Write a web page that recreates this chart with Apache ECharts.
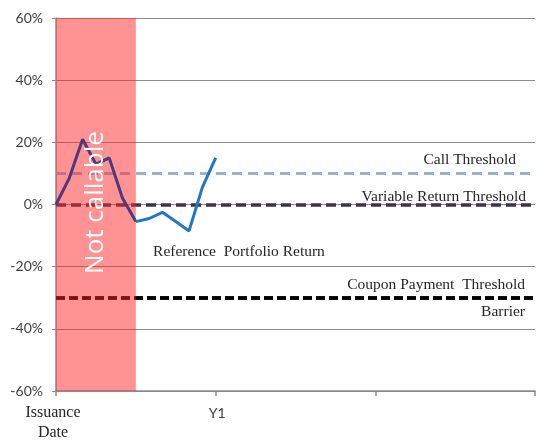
<!DOCTYPE html>
<html><head><meta charset="utf-8">
<script src="https://cdn.jsdelivr.net/npm/echarts@6/dist/echarts.min.js"></script>
<style>html,body{margin:0;padding:0;background:#fff}#c{width:538px;height:445px}</style>
</head><body><div id="c"></div>
<script>
// Time in years since issuance (monthly steps)
const months = [0, 1/12, 2/12, 3/12, 4/12, 5/12, 6/12, 7/12, 8/12, 9/12, 10/12, 11/12, 1];
const portfolioReturn = [0, 8.5, 21, 13, 15, 2, -5.5, -4.5, -2.5, -5.5, -8.5, 5.5, 15];
const yTicks = [-60, -40, -20, 0, 20, 40, 60];
const xTickLabels = {0: 'Issuance\nDate', 1: 'Y1', 2: '', 3: ''};
const callThreshold = 10;
const variableReturnThreshold = 0;
const couponThreshold = -30;
const barrier = -30;
const notCallableEnd = 0.5;
const labelPos = [1.146, -15.2];

const serif = 'Liberation Serif';
const pts = months.map((m, i) => [m, portfolioReturn[i]]);
const splitIdx = months.findIndex(m => m >= notCallableEnd);
const chart = echarts.init(document.getElementById('c'));
chart.setOption({
  animation: false,
  grid: {left: 56, right: 1, top: 18, bottom: 54},
  xAxis: {
    type: 'value', min: 0, max: 3, interval: 1,
    axisLine: {show: true, onZero: false, lineStyle: {color: '#8a8a8a', width: 1.5}},
    axisTick: {show: true, length: 5, lineStyle: {color: '#8a8a8a', width: 1.5}},
    splitLine: {show: false},
    axisLabel: {
      margin: 12,
      formatter: v => {
        const t = xTickLabels[v];
        if (!t) return '';
        if (v === 0) return '{s|Issuance}\n{s|Date}';
        return '{a|' + t + '}';
      },
      rich: {
        s: {fontFamily: serif, fontSize: 16, color: '#262626', lineHeight: 20, padding: [0, 6, 0, 0]},
        a: {fontFamily: 'Lato', fontSize: 14, color: '#404040', lineHeight: 20, padding: [0, 0, 0, 3]}
      }
    }
  },
  yAxis: {
    type: 'value', min: -60, max: 60, interval: 20,
    axisLine: {show: true, lineStyle: {color: '#8a8a8a', width: 1.5}},
    axisTick: {show: true, length: 4, lineStyle: {color: '#8a8a8a'}},
    splitLine: {show: true, lineStyle: {color: '#8c8c8c', width: 1.2}},
    axisLabel: {margin: 13, fontFamily: 'Lato', fontSize: 14, color: '#404040', formatter: v => v + '%'}
  },
  series: [
    {
      name: 'Reference Portfolio Return', type: 'line', z: 6, symbol: 'none',
      data: pts.slice(0, splitIdx + 1),
      lineStyle: {width: 3, color: '#4B3A80'}
    },
    {
      name: 'Reference Portfolio Return', type: 'line', z: 6, symbol: 'none',
      data: pts.slice(splitIdx),
      lineStyle: {width: 3, color: '#1F77C8'},
      markPoint: {
        symbol: 'rect', symbolSize: 1, itemStyle: {color: 'transparent'},
        data: [{coord: labelPos, value: 0}],
        label: {show: true, position: 'inside', fontFamily: serif, fontSize: 15.5, color: '#262626',
          formatter: 'Reference  Portfolio Return'}
      }
    },
    {
      type: 'line', z: 2, data: [], symbol: 'none',
      markLine: {
        z: 2,
        symbol: 'none', silent: true,
        label: {fontFamily: serif, fontSize: 15.5, color: '#262626'},
        data: [
          {yAxis: callThreshold, lineStyle: {color: '#95B3D7', width: 3, type: [10, 6]},
           label: {position: 'insideEndTop', distance: [19, 5], formatter: 'Call Threshold'}},
          {yAxis: variableReturnThreshold, lineStyle: {color: '#403152', width: 3.5, type: [10, 5]},
           label: {position: 'insideEndTop', distance: [9, 0], formatter: 'Variable Return Threshold'}},
          {yAxis: couponThreshold, lineStyle: {color: '#000000', width: 3.5, type: [9, 4]},
           label: {position: 'insideEndTop', distance: [10, 5], formatter: 'Coupon Payment  Threshold'}},
          {yAxis: barrier, lineStyle: {color: '#000000', width: 3.5, type: [9, 4]},
           label: {position: 'insideEndBottom', distance: [10, 6], formatter: 'Barrier'}}
        ]
      }
    },
    {
      type: 'line', z: 4, data: [], symbol: 'none',
      markArea: {
        z: 4,
        silent: true,
        itemStyle: {color: 'rgba(255,40,40,0.5)'},
        label: {show: false},
        data: [[{xAxis: 0}, {xAxis: notCallableEnd}]]
      }
    },
    {
      type: 'line', z: 8, data: [], symbol: 'none',
      markArea: {
        z: 8,
        silent: true,
        itemStyle: {color: 'transparent'},
        label: {show: true, position: 'inside', rotate: 90, color: '#ffffff',
          fontFamily: 'Open Sans', fontSize: 26, offset: [2, 0]},
        data: [[{xAxis: 0, name: 'Not callable'}, {xAxis: notCallableEnd}]]
      }
    }
  ]
});
</script></body></html>
